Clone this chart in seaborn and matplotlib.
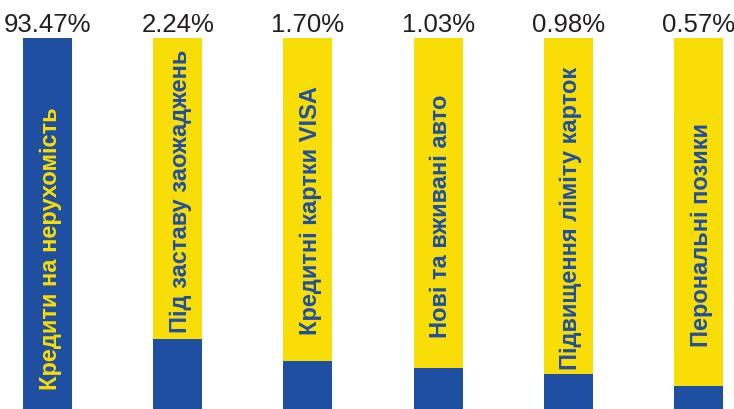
import matplotlib
matplotlib.use("Agg")
import matplotlib.pyplot as plt
import seaborn as sns
import pandas as pd

# ---- data ----
categories = [
    "Кредити на нерухомість",
    "Під заставу заожаджень",
    "Кредитні картки VISA",
    "Нові та вживані авто",
    "Підвищення ліміту карток",
    "Перональні позики",
]
shares = [93.47, 2.24, 1.70, 1.03, 0.98, 0.57]
blue_level = [100, 18.9, 12.9, 11.1, 9.4, 6.2]   # visual fill of each column (of 100)
track_level = [100, 100, 100, 100, 100, 100]

BLUE = "#1F4FA0"
YELLOW = "#F9DD06"
DARK = "#231F20"

df = pd.DataFrame({"cat": categories, "blue": blue_level, "track": track_level})

sns.set_theme(style="white")
plt.rcParams["font.family"] = ["Liberation Sans", "DejaVu Sans"]

fig = plt.figure(figsize=(7.34, 4.10), dpi=100)
ax = fig.add_axes([0, 0, 1, 1])
fig.patch.set_facecolor("white")
ax.set_facecolor("white")

sns.barplot(data=df, x="cat", y="track", color=YELLOW, width=0.376,
            saturation=1, ax=ax, linewidth=0)
sns.barplot(data=df, x="cat", y="blue", color=BLUE, width=0.376,
            saturation=1, ax=ax, linewidth=0)

ax.set_xlim(-0.365, 5.273)
ax.set_ylim(0, 110.5)
ax.set_axis_off()

label_bottom = [5.4, 20.8, 20.2, 19.4, 10.8, 17.0]
for i, (cat, s) in enumerate(zip(categories, shares)):
    ax.text(i, 101.9, f"{s:.2f}%", ha="center", va="baseline",
            fontsize=18.5, color=DARK, family=["Liberation Sans", "DejaVu Sans"])
    col = YELLOW if blue_level[i] >= 100 else BLUE
    ax.text(i + 0.02, label_bottom[i], cat, rotation=90, ha="center", va="bottom",
            fontsize=17, fontweight="bold", color=col,
            family=["Liberation Sans", "DejaVu Sans"])

fig.savefig("out.png", dpi=100, facecolor="white")
